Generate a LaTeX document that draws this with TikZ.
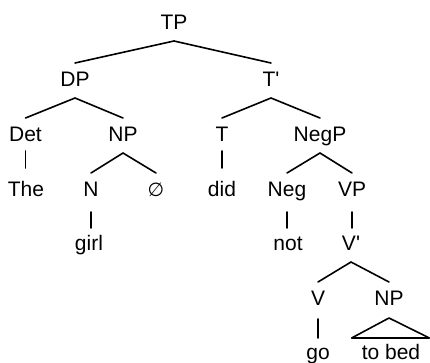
\documentclass[tikz,border=0pt]{standalone}
\usepackage{fontspec}
\setmainfont{Liberation Sans}[Ligatures=TeXOff]
\newfontfamily\symfont{DejaVu Sans}
\begin{document}
\begin{tikzpicture}[x=1pt,y=-1pt,
  lbl/.style={inner sep=0pt,anchor=base,font=\fontsize{21}{24}\selectfont},
  edge/.style={line width=1.6pt,line cap=round,line join=round}]
\useasboundingbox (0,0) rectangle (430,362);
% nodes
\node[lbl] (TP) at (174,29) {TP};
\node[lbl] (DP) at (75,86) {DP};
\node[lbl] (Tbar) at (271,86) {T\textquotesingle};
\node[lbl] (Det) at (25.5,141) {Det};
\node[lbl] (NPa) at (123,141) {NP};
\node[lbl] (T) at (222,141) {T};
\node[lbl] (NegP) at (320,141) {NegP};
\node[lbl] (The) at (26,196) {The};
\node[lbl] (N) at (91,196) {N};
\node[lbl] (null) at (156,196) {\symfont\fontsize{19}{24}\selectfont ∅};
\node[lbl] (did) at (222,196) {did};
\node[lbl] (Neg) at (287,196) {Neg};
\node[lbl] (VP) at (352,196) {VP};
\node[lbl] (girl) at (89,250) {girl};
\node[lbl] (not) at (288,250) {not};
\node[lbl] (Vbar) at (351,250) {V\textquotesingle};
\node[lbl] (V) at (318,305) {V};
\node[lbl] (NPb) at (389,305) {NP};
\node[lbl] (go) at (318,359) {go};
\node[lbl] (tobed) at (391,359) {to bed};
% branching edges
\foreach \p/\c in {TP/DP,TP/Tbar,DP/Det,DP/NPa,Tbar/T,Tbar/NegP,NPa/N,NPa/null,NegP/Neg,NegP/VP,Vbar/V,Vbar/NPb}
  \draw[edge] ([yshift=-12pt]\p.base) -- ([yshift=23pt]\c.base);
% unary edges (vertical, under the parent)
\foreach \p/\c/\a/\b in {Det/The/10/28,T/did/10/28,N/girl/16/22,Neg/not/16/22,VP/Vbar/16/22,V/go/14/21}{
  \coordinate (u1) at ([yshift=-\a pt]\p.base);
  \coordinate (u2) at ([yshift=\b pt]\c.base);
  \draw[edge] (u1) -- (u1 |- u2);
}
% triangle
\draw[edge] ([yshift=-13pt]NPb.base) -- ([xshift=-10pt,yshift=21pt]tobed.base west)
  -- ([xshift=9pt,yshift=21pt]tobed.base east) -- cycle;
\end{tikzpicture}
\end{document}
